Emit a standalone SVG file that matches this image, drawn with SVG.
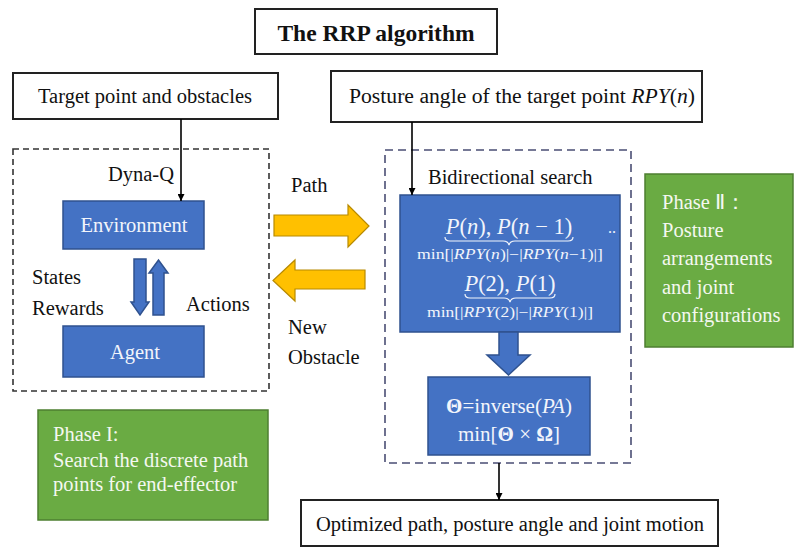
<svg xmlns="http://www.w3.org/2000/svg" width="794" height="549" viewBox="0 0 794 549">
<defs>
<marker id="ah" viewBox="0 0 10 10" refX="10" refY="5" markerWidth="7" markerHeight="7" markerUnits="userSpaceOnUse" orient="auto"><path d="M0,0 L10,5 L0,10 z" fill="#000"/></marker>
<style>
text{font-family:"Liberation Serif","Times New Roman",serif;fill:#111;}
.lbl{font-size:20.5px;}
.box{fill:#fff;stroke:#222;stroke-width:2;}
.blue{fill:#4472C4;stroke:#2F528F;stroke-width:1.5;}
.wt{fill:#f2f5fb;}
.green{fill:#6AAB43;stroke:#4E7F31;stroke-width:1.5;}
.gt{fill:#f4f8f0;font-size:20.5px;}
.yel{fill:#FFC000;stroke:#B88A00;stroke-width:1.2;}
.conn{stroke:#000;stroke-width:1.6;fill:none;marker-end:url(#ah);}
.brace{fill:none;stroke:#f2f5fb;stroke-width:1.2;}
.it{font-style:italic;}
</style>
</defs>
<rect width="794" height="549" fill="#fff"/>

<g id="title"><rect class="box" x="255" y="9" width="242" height="45"/><text x="376" y="41" text-anchor="middle" font-size="23.5" font-weight="bold">The RRP algorithm</text></g>

<g id="target"><rect class="box" x="13" y="73" width="265" height="46"/><text class="lbl" x="145" y="103" text-anchor="middle">Target point and obstacles</text></g>

<g id="posture"><rect class="box" x="331" y="71" width="371" height="51"/><text class="lbl" x="349" y="103" textLength="346" lengthAdjust="spacingAndGlyphs">Posture angle of the target point <tspan class="it">RPY</tspan>(<tspan class="it">n</tspan>)</text></g>

<g id="phase1-dyna"><rect x="13" y="149" width="256" height="242" fill="none" stroke="#333" stroke-width="1.6" stroke-dasharray="6 4"/><text class="lbl" x="141" y="181" text-anchor="middle">Dyna-Q</text>
<text class="lbl" x="32" y="284">States</text><text class="lbl" x="32" y="315">Rewards</text><text class="lbl" x="186" y="311">Actions</text></g>

<g id="environment"><rect class="blue" x="63" y="201" width="141" height="48"/><text class="lbl wt" x="134" y="232" text-anchor="middle">Environment</text></g>

<g id="agent"><rect class="blue" x="63" y="326" width="141" height="51"/><text class="lbl wt" x="135" y="359" text-anchor="middle">Agent</text></g>

<g id="phase2-region"><rect x="385" y="150" width="246" height="313" fill="none" stroke="#4a4e74" stroke-width="1.6" stroke-dasharray="8 5"/><text class="lbl" x="428" y="184">Bidirectional search</text></g>

<g id="bidirectional"><rect class="blue" x="400" y="195" width="220" height="137"/>
<text x="509" y="234" text-anchor="middle" font-size="22.5" class="wt"><tspan class="it">P</tspan>(<tspan class="it">n</tspan>), <tspan class="it">P</tspan>(<tspan class="it">n</tspan> − 1)</text>
<path class="brace" d="M445,237 Q445,241 450,241 H503 Q508,241 509,245 Q510,241 515,241 H568 Q573,241 573,237"/>
<text x="510" y="259" text-anchor="middle" font-size="14" class="wt" textLength="186" lengthAdjust="spacingAndGlyphs">min[|<tspan class="it">RPY</tspan>(<tspan class="it">n</tspan>)|−|<tspan class="it">RPY</tspan>(<tspan class="it">n</tspan>−1)|]</text>
<text x="612" y="233" text-anchor="middle" font-size="16" class="wt">..</text>
<text x="510" y="291" text-anchor="middle" font-size="22.5" class="wt"><tspan class="it">P</tspan>(2), <tspan class="it">P</tspan>(1)</text>
<path class="brace" d="M465,294 Q465,298 470,298 H504 Q509,298 510,302 Q511,298 516,298 H550 Q555,298 555,294"/>
<text x="510" y="317" text-anchor="middle" font-size="14" class="wt" textLength="166" lengthAdjust="spacingAndGlyphs">min[|<tspan class="it">RPY</tspan>(2)|−|<tspan class="it">RPY</tspan>(1)|]</text></g>

<g id="inverse"><rect class="blue" x="428" y="377" width="162" height="78"/>
<text x="509" y="413" text-anchor="middle" font-size="21" class="wt"><tspan font-weight="bold">Θ</tspan>=inverse(<tspan class="it">PA</tspan>)</text>
<text x="509" y="441" text-anchor="middle" font-size="21" class="wt">min[<tspan font-weight="bold">Θ</tspan> × <tspan font-weight="bold">Ω</tspan>]</text></g>

<g id="phase2"><rect class="green" x="645" y="174" width="148" height="173"/>
<text class="gt" x="662" y="209">Phase Ⅱ：</text><text class="gt" x="662" y="237">Posture</text><text class="gt" x="662" y="265">arrangements</text><text class="gt" x="662" y="294">and joint</text><text class="gt" x="662" y="322">configurations</text></g>

<g id="phase1"><rect class="green" x="38" y="410" width="230" height="110"/>
<text class="gt" x="53" y="441">Phase I:</text><text class="gt" x="53" y="467">Search the discrete path</text><text class="gt" x="53" y="491">points for end-effector</text></g>

<g id="output"><rect class="box" x="301" y="500" width="417" height="46"/><text class="lbl" x="510" y="531" text-anchor="middle" textLength="388" lengthAdjust="spacingAndGlyphs">Optimized path, posture angle and joint motion</text></g>

<g id="connectors">
<line class="conn" x1="181" y1="119" x2="181" y2="201"/>
<line class="conn" x1="412" y1="122" x2="412" y2="195"/>
<line class="conn" x1="499" y1="463" x2="499" y2="500"/>
<path class="blue" d="M134,259 H146 V302 H149 L140,315 L131,302 H134 Z"/>
<path class="blue" d="M153,315 H164 V273 H168 L158.5,260 L149,273 H153 Z"/>
<path class="blue" d="M499,332 H518 V355 H530 L508.5,375 L487,355 H499 Z"/>
<path class="yel" d="M274,215 H348 V205 L369,226 L348,247 V236 H274 Z"/>
<path class="yel" d="M365,270 H295 V260 L273,280.5 L295,301 V289 H365 Z"/>
<text class="lbl" x="291" y="192">Path</text>
<text class="lbl" x="288" y="334">New</text>
<text class="lbl" x="288" y="364">Obstacle</text>
</g>
</svg>
